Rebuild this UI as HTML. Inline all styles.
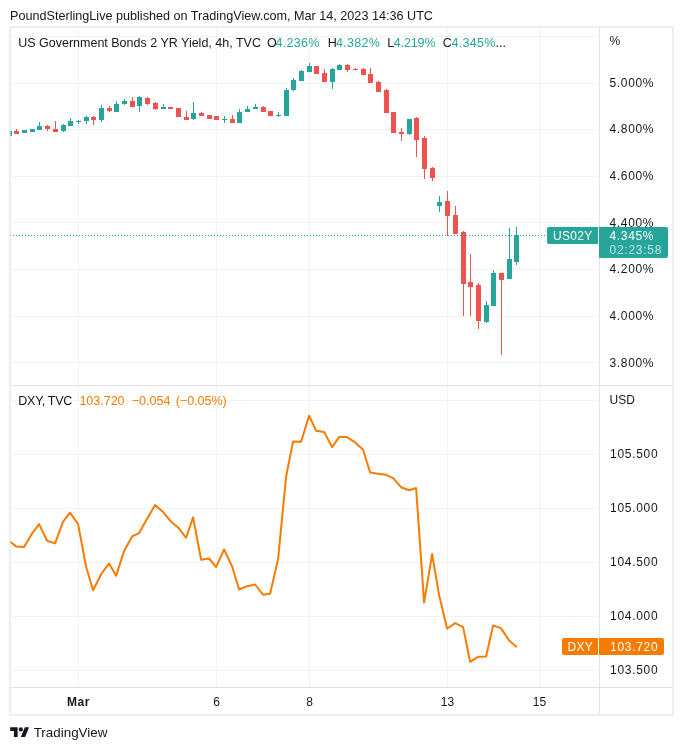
<!DOCTYPE html>
<html><head><meta charset="utf-8"><title>chart</title>
<style>
html,body{margin:0;padding:0;background:#fff;}
body{width:683px;height:750px;position:relative;overflow:hidden;font-family:"Liberation Sans",sans-serif;}
.t{position:absolute;height:20px;line-height:20px;white-space:nowrap;color:#131722;}
.c{text-align:center;}
#tx{position:absolute;left:0;top:0;width:683px;height:750px;will-change:transform;}
</style></head><body>
<svg width="683" height="750" viewBox="0 0 683 750" style="position:absolute;left:0;top:0">
<defs><clipPath id="cp"><rect x="10.5" y="28" width="588.5" height="659"/></clipPath></defs>
<g shape-rendering="crispEdges">
<rect x="11" y="36.0" width="588" height="1" fill="#2a2e39" fill-opacity="0.06"/>
<rect x="11" y="83.0" width="588" height="1" fill="#2a2e39" fill-opacity="0.06"/>
<rect x="11" y="129.0" width="588" height="1" fill="#2a2e39" fill-opacity="0.06"/>
<rect x="11" y="176.0" width="588" height="1" fill="#2a2e39" fill-opacity="0.06"/>
<rect x="11" y="222.0" width="588" height="1" fill="#2a2e39" fill-opacity="0.06"/>
<rect x="11" y="269.0" width="588" height="1" fill="#2a2e39" fill-opacity="0.06"/>
<rect x="11" y="316.0" width="588" height="1" fill="#2a2e39" fill-opacity="0.06"/>
<rect x="11" y="362.0" width="588" height="1" fill="#2a2e39" fill-opacity="0.06"/>
<rect x="11" y="400.0" width="588" height="1" fill="#2a2e39" fill-opacity="0.06"/>
<rect x="11" y="454.0" width="588" height="1" fill="#2a2e39" fill-opacity="0.06"/>
<rect x="11" y="508.0" width="588" height="1" fill="#2a2e39" fill-opacity="0.06"/>
<rect x="11" y="562.0" width="588" height="1" fill="#2a2e39" fill-opacity="0.06"/>
<rect x="11" y="616.0" width="588" height="1" fill="#2a2e39" fill-opacity="0.06"/>
<rect x="11" y="670.0" width="588" height="1" fill="#2a2e39" fill-opacity="0.06"/>
<rect x="78.0" y="28" width="1" height="659" fill="#2a2e39" fill-opacity="0.06"/>
<rect x="216.0" y="28" width="1" height="659" fill="#2a2e39" fill-opacity="0.06"/>
<rect x="309.0" y="28" width="1" height="659" fill="#2a2e39" fill-opacity="0.06"/>
<rect x="447.0" y="28" width="1" height="659" fill="#2a2e39" fill-opacity="0.06"/>
<rect x="539.0" y="28" width="1" height="659" fill="#2a2e39" fill-opacity="0.06"/>
</g>
<rect x="11" y="385" width="661" height="1" fill="#e0e3eb"/>
<rect x="11" y="687" width="661" height="1" fill="#e0e0e2"/>
<rect x="599" y="28" width="1" height="686" fill="#e0e3eb"/>
<path d="M9 26h665v690h-665zM11 28v686h661v-686z" fill="#eceef3" fill-rule="evenodd"/>
<g clip-path="url(#cp)">
<rect x="9.0" y="131" width="1" height="5" fill="#26a69a"/>
<rect x="7.0" y="131" width="5" height="5" fill="#26a69a"/>
<rect x="16.0" y="129" width="1" height="5" fill="#ef5350"/>
<rect x="14.0" y="131" width="5" height="3" fill="#ef5350"/>
<rect x="24.0" y="130" width="1" height="3" fill="#26a69a"/>
<rect x="22.0" y="130" width="5" height="3" fill="#26a69a"/>
<rect x="32.0" y="129" width="1" height="3" fill="#26a69a"/>
<rect x="30.0" y="129" width="5" height="3" fill="#26a69a"/>
<rect x="39.0" y="122" width="1" height="8" fill="#26a69a"/>
<rect x="37.0" y="126" width="5" height="4" fill="#26a69a"/>
<rect x="47.0" y="125" width="1" height="6" fill="#ef5350"/>
<rect x="45.0" y="126" width="5" height="3" fill="#ef5350"/>
<rect x="55.0" y="121" width="1" height="11" fill="#ef5350"/>
<rect x="53.0" y="129" width="5" height="3" fill="#ef5350"/>
<rect x="63.0" y="124" width="1" height="8" fill="#26a69a"/>
<rect x="61.0" y="125" width="5" height="6" fill="#26a69a"/>
<rect x="70.0" y="118" width="1" height="8" fill="#26a69a"/>
<rect x="68.0" y="121" width="5" height="5" fill="#26a69a"/>
<rect x="78.0" y="120" width="1" height="4" fill="#26a69a"/>
<rect x="76.0" y="121" width="5" height="1" fill="#26a69a"/>
<rect x="86.0" y="116" width="1" height="8" fill="#26a69a"/>
<rect x="84.0" y="117" width="5" height="4" fill="#26a69a"/>
<rect x="93.0" y="116" width="1" height="9" fill="#ef5350"/>
<rect x="91.0" y="117" width="5" height="3" fill="#ef5350"/>
<rect x="101.0" y="105" width="1" height="17" fill="#26a69a"/>
<rect x="99.0" y="108" width="5" height="12" fill="#26a69a"/>
<rect x="109.0" y="106" width="1" height="6" fill="#ef5350"/>
<rect x="107.0" y="108" width="5" height="3" fill="#ef5350"/>
<rect x="116.0" y="101" width="1" height="11" fill="#26a69a"/>
<rect x="114.0" y="104" width="5" height="8" fill="#26a69a"/>
<rect x="124.0" y="99" width="1" height="6" fill="#26a69a"/>
<rect x="122.0" y="101" width="5" height="3" fill="#26a69a"/>
<rect x="132.0" y="97" width="1" height="10" fill="#ef5350"/>
<rect x="130.0" y="101" width="5" height="6" fill="#ef5350"/>
<rect x="139.0" y="96" width="1" height="16" fill="#26a69a"/>
<rect x="137.0" y="97" width="5" height="9" fill="#26a69a"/>
<rect x="147.0" y="97" width="1" height="8" fill="#ef5350"/>
<rect x="145.0" y="98" width="5" height="6" fill="#ef5350"/>
<rect x="155.0" y="102" width="1" height="8" fill="#ef5350"/>
<rect x="153.0" y="103" width="5" height="6" fill="#ef5350"/>
<rect x="163.0" y="104" width="1" height="5" fill="#26a69a"/>
<rect x="161.0" y="107" width="5" height="2" fill="#26a69a"/>
<rect x="170.0" y="107" width="1" height="2" fill="#ef5350"/>
<rect x="168.0" y="107" width="5" height="2" fill="#ef5350"/>
<rect x="178.0" y="108" width="1" height="9" fill="#ef5350"/>
<rect x="176.0" y="108" width="5" height="9" fill="#ef5350"/>
<rect x="186.0" y="111" width="1" height="9" fill="#ef5350"/>
<rect x="184.0" y="117" width="5" height="3" fill="#ef5350"/>
<rect x="193.0" y="102" width="1" height="18" fill="#26a69a"/>
<rect x="191.0" y="113" width="5" height="6" fill="#26a69a"/>
<rect x="201.0" y="112" width="1" height="4" fill="#ef5350"/>
<rect x="199.0" y="113" width="5" height="3" fill="#ef5350"/>
<rect x="209.0" y="115" width="1" height="4" fill="#ef5350"/>
<rect x="207.0" y="115" width="5" height="4" fill="#ef5350"/>
<rect x="216.0" y="116" width="1" height="4" fill="#ef5350"/>
<rect x="214.0" y="116" width="5" height="4" fill="#ef5350"/>
<rect x="224.0" y="116" width="1" height="7" fill="#26a69a"/>
<rect x="222.0" y="119" width="5" height="1" fill="#26a69a"/>
<rect x="232.0" y="115" width="1" height="8" fill="#ef5350"/>
<rect x="230.0" y="119" width="5" height="4" fill="#ef5350"/>
<rect x="239.0" y="109" width="1" height="14" fill="#26a69a"/>
<rect x="237.0" y="112" width="5" height="11" fill="#26a69a"/>
<rect x="247.0" y="106" width="1" height="6" fill="#26a69a"/>
<rect x="245.0" y="109" width="5" height="3" fill="#26a69a"/>
<rect x="255.0" y="104" width="1" height="5" fill="#26a69a"/>
<rect x="253.0" y="107" width="5" height="2" fill="#26a69a"/>
<rect x="263.0" y="106" width="1" height="6" fill="#ef5350"/>
<rect x="261.0" y="107" width="5" height="5" fill="#ef5350"/>
<rect x="270.0" y="111" width="1" height="5" fill="#ef5350"/>
<rect x="268.0" y="111" width="5" height="5" fill="#ef5350"/>
<rect x="278.0" y="112" width="1" height="5" fill="#26a69a"/>
<rect x="276.0" y="115" width="5" height="1" fill="#26a69a"/>
<rect x="286.0" y="88" width="1" height="28" fill="#26a69a"/>
<rect x="284.0" y="90" width="5" height="26" fill="#26a69a"/>
<rect x="293.0" y="78" width="1" height="13" fill="#26a69a"/>
<rect x="291.0" y="80" width="5" height="10" fill="#26a69a"/>
<rect x="301.0" y="70" width="1" height="11" fill="#26a69a"/>
<rect x="299.0" y="71" width="5" height="10" fill="#26a69a"/>
<rect x="309.0" y="63" width="1" height="9" fill="#26a69a"/>
<rect x="307.0" y="66" width="5" height="6" fill="#26a69a"/>
<rect x="316.0" y="66" width="1" height="8" fill="#ef5350"/>
<rect x="314.0" y="66" width="5" height="8" fill="#ef5350"/>
<rect x="324.0" y="69" width="1" height="13" fill="#ef5350"/>
<rect x="322.0" y="73" width="5" height="9" fill="#ef5350"/>
<rect x="332.0" y="68" width="1" height="21" fill="#26a69a"/>
<rect x="330.0" y="69" width="5" height="13" fill="#26a69a"/>
<rect x="339.0" y="64" width="1" height="6" fill="#26a69a"/>
<rect x="337.0" y="65" width="5" height="5" fill="#26a69a"/>
<rect x="347.0" y="64" width="1" height="8" fill="#ef5350"/>
<rect x="345.0" y="65" width="5" height="5" fill="#ef5350"/>
<rect x="355.0" y="68" width="1" height="2" fill="#ef5350"/>
<rect x="353.0" y="69" width="5" height="1" fill="#ef5350"/>
<rect x="363.0" y="68" width="1" height="7" fill="#ef5350"/>
<rect x="361.0" y="69" width="5" height="6" fill="#ef5350"/>
<rect x="370.0" y="68" width="1" height="15" fill="#ef5350"/>
<rect x="368.0" y="74" width="5" height="9" fill="#ef5350"/>
<rect x="378.0" y="81" width="1" height="11" fill="#ef5350"/>
<rect x="376.0" y="82" width="5" height="10" fill="#ef5350"/>
<rect x="386.0" y="89" width="1" height="24" fill="#ef5350"/>
<rect x="384.0" y="90" width="5" height="23" fill="#ef5350"/>
<rect x="393.0" y="112" width="1" height="21" fill="#ef5350"/>
<rect x="391.0" y="112" width="5" height="21" fill="#ef5350"/>
<rect x="401.0" y="128" width="1" height="13" fill="#ef5350"/>
<rect x="399.0" y="132" width="5" height="2" fill="#ef5350"/>
<rect x="409.0" y="119" width="1" height="16" fill="#26a69a"/>
<rect x="407.0" y="119" width="5" height="15" fill="#26a69a"/>
<rect x="416.0" y="117" width="1" height="40" fill="#ef5350"/>
<rect x="414.0" y="118" width="5" height="22" fill="#ef5350"/>
<rect x="424.0" y="136" width="1" height="43" fill="#ef5350"/>
<rect x="422.0" y="138" width="5" height="31" fill="#ef5350"/>
<rect x="432.0" y="167" width="1" height="14" fill="#ef5350"/>
<rect x="430.0" y="168" width="5" height="10" fill="#ef5350"/>
<rect x="439.0" y="196" width="1" height="16" fill="#26a69a"/>
<rect x="437.0" y="202" width="5" height="4" fill="#26a69a"/>
<rect x="447.0" y="191" width="1" height="45" fill="#ef5350"/>
<rect x="445.0" y="201" width="5" height="15" fill="#ef5350"/>
<rect x="455.0" y="206" width="1" height="28" fill="#ef5350"/>
<rect x="453.0" y="215" width="5" height="19" fill="#ef5350"/>
<rect x="463.0" y="231" width="1" height="85" fill="#ef5350"/>
<rect x="461.0" y="232" width="5" height="52" fill="#ef5350"/>
<rect x="470.0" y="254" width="1" height="62" fill="#ef5350"/>
<rect x="468.0" y="282" width="5" height="5" fill="#ef5350"/>
<rect x="478.0" y="283" width="1" height="46" fill="#ef5350"/>
<rect x="476.0" y="285" width="5" height="36" fill="#ef5350"/>
<rect x="486.0" y="301" width="1" height="22" fill="#26a69a"/>
<rect x="484.0" y="305" width="5" height="17" fill="#26a69a"/>
<rect x="493.0" y="270" width="1" height="36" fill="#26a69a"/>
<rect x="491.0" y="273" width="5" height="33" fill="#26a69a"/>
<rect x="501.0" y="273" width="1" height="82" fill="#ef5350"/>
<rect x="499.0" y="273" width="5" height="7" fill="#ef5350"/>
<rect x="509.0" y="228" width="1" height="51" fill="#26a69a"/>
<rect x="507.0" y="259" width="5" height="20" fill="#26a69a"/>
<rect x="516.0" y="227" width="1" height="38" fill="#26a69a"/>
<rect x="514.0" y="235" width="5" height="27" fill="#26a69a"/>
<line x1="10" y1="235.5" x2="545" y2="235.5" stroke="#26a69a" stroke-width="1" stroke-dasharray="1 2"/>
<path d="M9.1,541.1 L16.1,546.4 L24.1,547.1 L32.1,533.4 L39.1,524.1 L47.1,540.8 L55.1,543.4 L63.1,521.7 L70.1,512.7 L78.1,524.1 L86.1,566.8 L93.1,590.2 L101.1,574.2 L109.1,563.5 L116.1,575.8 L124.1,551.1 L132.1,536.4 L139.1,533.1 L147.1,518.7 L155.1,505.0 L163.1,512.1 L170.1,520.7 L178.1,527.4 L186.1,537.8 L193.1,517.4 L201.1,559.8 L209.1,558.5 L216.1,567.1 L224.1,549.4 L232.1,566.5 L239.1,589.5 L247.1,586.2 L255.1,584.5 L263.1,594.8 L270.1,593.8 L278.1,559.1 L286.1,476.8 L293.1,441.4 L301.1,441.7 L309.1,415.7 L316.1,430.7 L324.1,431.9 L332.1,447.1 L339.1,437.1 L347.1,437.1 L355.1,442.4 L363.1,449.7 L370.1,472.5 L378.1,473.8 L386.1,474.8 L393.1,478.1 L401.1,487.2 L409.1,490.3 L416.1,488.0 L424.1,602.6 L432.1,554.1 L439.1,595.1 L447.1,628.8 L455.1,623.1 L463.1,627.1 L470.1,661.8 L478.1,656.8 L486.1,656.5 L493.1,625.4 L501.1,628.4 L509.1,640.5 L516.1,646.5" fill="none" stroke="#f57c00" stroke-width="2" stroke-linejoin="round" stroke-linecap="round"/>
</g>
<path d="M549 227h49v17h-49a2 2 0 0 1-2-2v-13a2 2 0 0 1 2-2z" fill="#26a69a"/>
<path d="M599 227h67a2 2 0 0 1 2 2v27a2 2 0 0 1-2 2h-67z" fill="#26a69a"/>
<path d="M564 638h34v17h-34a2 2 0 0 1-2-2v-13a2 2 0 0 1 2-2z" fill="#f57c00"/>
<path d="M599 638h63a2 2 0 0 1 2 2v13a2 2 0 0 1-2 2h-63z" fill="#f57c00"/>
<g transform="translate(10.2,725.2) scale(0.532)" fill="#131722">
<path d="M14 22H7V11H0V4h14v18zM28 22h-8l7.5-18h8L28 22z"/><circle cx="20" cy="8" r="4"/>
</g>
</svg>
<div id="tx">
<span class="t" style="left:10.0px;top:5.5px;font-size:12.63px;color:#131722;letter-spacing:0px;font-weight:400;">PoundSterlingLive published on TradingView.com, Mar 14, 2023 14:36 UTC</span>
<span class="t" style="left:18.2px;top:32.5px;font-size:12.5px;color:#131722;letter-spacing:0px;font-weight:400;">US Government Bonds 2 YR Yield, 4h, TVC</span>
<span class="t" style="left:267px;top:32.5px;font-size:12.5px;color:#131722;letter-spacing:0px;font-weight:400;">O</span>
<span class="t" style="left:275.6px;top:32.5px;font-size:12.5px;color:#26a69a;letter-spacing:0.3px;font-weight:400;">4.236%</span>
<span class="t" style="left:327.7px;top:32.5px;font-size:12.5px;color:#131722;letter-spacing:0px;font-weight:400;">H</span>
<span class="t" style="left:336px;top:32.5px;font-size:12.5px;color:#26a69a;letter-spacing:0.3px;font-weight:400;">4.382%</span>
<span class="t" style="left:387.3px;top:32.5px;font-size:12.5px;color:#131722;letter-spacing:0px;font-weight:400;">L</span>
<span class="t" style="left:393.7px;top:32.5px;font-size:12.5px;color:#26a69a;letter-spacing:-0.1px;font-weight:400;">4.219%</span>
<span class="t" style="left:442.8px;top:32.5px;font-size:12.5px;color:#131722;letter-spacing:0px;font-weight:400;">C</span>
<span class="t" style="left:451.4px;top:32.5px;font-size:12.5px;color:#26a69a;letter-spacing:0.3px;font-weight:400;">4.345%</span>
<span class="t" style="left:495.5px;top:32.5px;font-size:12.5px;color:#131722;letter-spacing:0px;font-weight:400;">...</span>
<span class="t" style="left:609.5px;top:31px;font-size:12px;color:#131722;letter-spacing:0px;font-weight:400;">%</span>
<span class="t" style="left:609.5px;top:73.4px;font-size:12px;color:#131722;letter-spacing:0.65px;font-weight:400;">5.000%</span>
<span class="t" style="left:609.5px;top:118.9px;font-size:12px;color:#131722;letter-spacing:0.65px;font-weight:400;">4.800%</span>
<span class="t" style="left:609.5px;top:166.4px;font-size:12px;color:#131722;letter-spacing:0.65px;font-weight:400;">4.600%</span>
<span class="t" style="left:609.5px;top:212.9px;font-size:12px;color:#131722;letter-spacing:0.65px;font-weight:400;">4.400%</span>
<span class="t" style="left:609.5px;top:259.3px;font-size:12px;color:#131722;letter-spacing:0.65px;font-weight:400;">4.200%</span>
<span class="t" style="left:609.5px;top:305.8px;font-size:12px;color:#131722;letter-spacing:0.65px;font-weight:400;">4.000%</span>
<span class="t" style="left:609.5px;top:353.3px;font-size:12px;color:#131722;letter-spacing:0.65px;font-weight:400;">3.800%</span>
<span class="t" style="left:553px;top:225.5px;font-size:12px;color:#fff;letter-spacing:0.3px;font-weight:400;">US02Y</span>
<span class="t" style="left:609.5px;top:225.5px;font-size:12px;color:#fff;letter-spacing:0.65px;font-weight:400;">4.345%</span>
<span class="t" style="left:609.5px;top:239.5px;font-size:12px;color:rgba(255,255,255,0.7);letter-spacing:0.75px;font-weight:400;">02:23:58</span>
<span class="t" style="left:18.3px;top:391px;font-size:12.5px;color:#131722;letter-spacing:-0.25px;font-weight:400;">DXY, TVC</span>
<span class="t" style="left:79.4px;top:391px;font-size:12.5px;color:#f57c00;letter-spacing:0px;font-weight:400;">103.720</span>
<span class="t" style="left:131.8px;top:391px;font-size:12.5px;color:#f57c00;letter-spacing:0px;font-weight:400;">−0.054</span>
<span class="t" style="left:175.7px;top:391px;font-size:12.5px;color:#f57c00;letter-spacing:0px;font-weight:400;">(−0.05%)</span>
<span class="t" style="left:609.5px;top:389.7px;font-size:12px;color:#131722;letter-spacing:0px;font-weight:400;">USD</span>
<span class="t" style="left:610.1px;top:444.3px;font-size:12px;color:#131722;letter-spacing:0.7px;font-weight:400;">105.500</span>
<span class="t" style="left:610.1px;top:498.3px;font-size:12px;color:#131722;letter-spacing:0.7px;font-weight:400;">105.000</span>
<span class="t" style="left:610.1px;top:552.2px;font-size:12px;color:#131722;letter-spacing:0.7px;font-weight:400;">104.500</span>
<span class="t" style="left:610.1px;top:606.2px;font-size:12px;color:#131722;letter-spacing:0.7px;font-weight:400;">104.000</span>
<span class="t" style="left:610.1px;top:660.1px;font-size:12px;color:#131722;letter-spacing:0.7px;font-weight:400;">103.500</span>
<span class="t" style="left:567.6px;top:636.5px;font-size:12px;color:#fff;letter-spacing:0.3px;font-weight:400;">DXY</span>
<span class="t" style="left:610.1px;top:636.5px;font-size:12px;color:#fff;letter-spacing:0.7px;font-weight:400;">103.720</span>
<span class="t c" style="left:48.5px;width:60px;top:692px;font-size:12px;font-weight:700;letter-spacing:0.5px">Mar</span>
<span class="t c" style="left:186.5px;width:60px;top:692px;font-size:12px;font-weight:400;letter-spacing:0px">6</span>
<span class="t c" style="left:279.5px;width:60px;top:692px;font-size:12px;font-weight:400;letter-spacing:0px">8</span>
<span class="t c" style="left:417.5px;width:60px;top:692px;font-size:12px;font-weight:400;letter-spacing:0px">13</span>
<span class="t c" style="left:509.5px;width:60px;top:692px;font-size:12px;font-weight:400;letter-spacing:0px">15</span>
<span class="t" style="left:33.7px;top:722.5px;font-size:13.4px;color:#131722;letter-spacing:0px;font-weight:400;">TradingView</span>
</div>
</body></html>
